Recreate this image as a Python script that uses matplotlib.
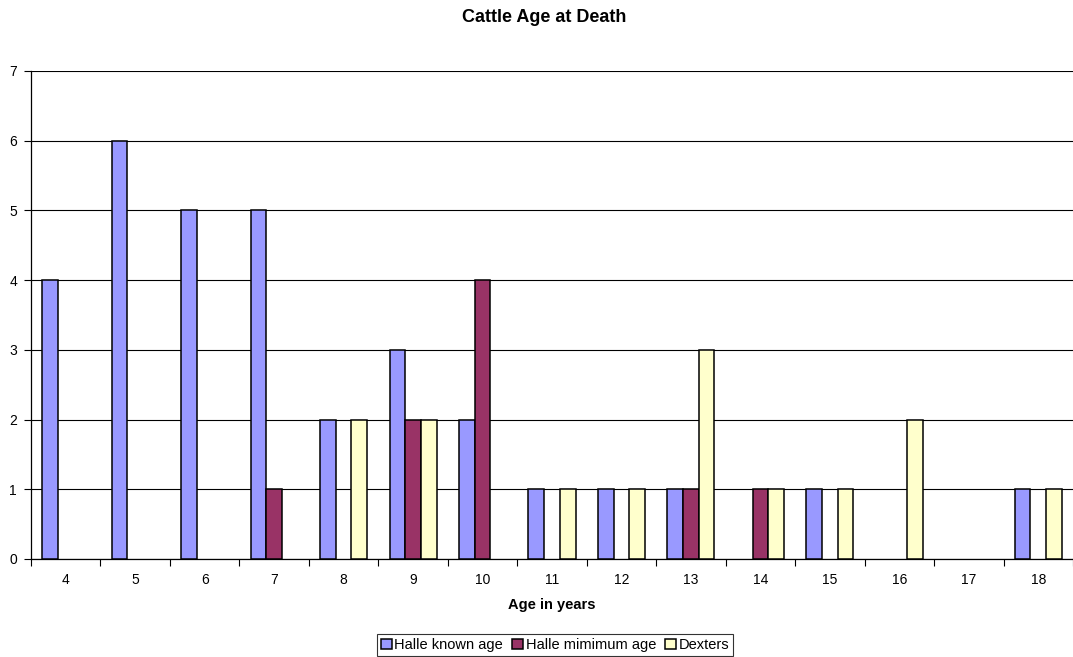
import matplotlib
matplotlib.use("Agg")
import matplotlib.pyplot as plt
import numpy as np

plt.rcParams['font.family'] = ['Liberation Sans', 'DejaVu Sans']

ages = [4, 5, 6, 7, 8, 9, 10, 11, 12, 13, 14, 15, 16, 17, 18]
halle_known = [4, 6, 5, 5, 2, 3, 2, 1, 1, 1, 0, 1, 0, 0, 1]
halle_min = [0, 0, 0, 1, 0, 2, 4, 0, 0, 1, 1, 0, 0, 0, 0]
dexters = [0, 0, 0, 0, 2, 2, 0, 1, 1, 3, 1, 1, 2, 0, 1]
series_names = ["Halle known age", "Halle mimimum age", "Dexters"]
colors = ["#9999FF", "#993366", "#FFFFCC"]

fig = plt.figure(figsize=(10.73, 6.57), dpi=100)
ax = fig.add_axes([31/1073, 1 - 559/657, (1073 - 31)/1073, (559 - 71)/657])

x = np.arange(len(ages))
w = 0.226
handles = []
for i, (vals, name, c) in enumerate(zip([halle_known, halle_min, dexters], series_names, colors)):
    v = np.array(vals, dtype=float)
    mask = v > 0
    h = ax.bar(x[mask] + (i - 1) * w, v[mask], width=w, color=c, edgecolor="black",
               linewidth=1.1, label=name, zorder=3)
    handles.append(h)

ax.set_xlim(-0.5, len(ages) - 0.5)
ax.set_ylim(0, 7)
ax.set_yticks(range(0, 8))
ax.yaxis.grid(True, color="black", linewidth=0.8, zorder=0)
ax.set_axisbelow(True)

ax.set_xticks(x)
ax.set_xticklabels([str(a) for a in ages], fontsize=10)
ax.set_xticks(np.arange(-0.5, len(ages), 1), minor=True)
ax.tick_params(axis='x', which='major', length=0, pad=10)
ax.tick_params(axis='x', which='minor', length=5, direction='out', width=0.8)
ax.tick_params(axis='y', labelsize=10, length=5, direction='out', width=0.8, pad=5)

for s in ["top", "right"]:
    ax.spines[s].set_visible(False)
ax.spines["left"].set_linewidth(0.9)
ax.spines["bottom"].set_linewidth(0.9)

ax.set_xlabel("Age in years", fontsize=10.5, fontweight="bold", labelpad=8)
fig.text(544/1073, 1 - 18/657, "Cattle Age at Death", ha="center", va="center",
         fontsize=13, fontweight="bold")

leg = fig.legend(handles=handles, labels=series_names, loc="center",
                 bbox_to_anchor=(555/1073, 1 - 645/657), ncol=3, fontsize=10.5,
                 frameon=True, fancybox=False, edgecolor="black",
                 handlelength=0.75, handleheight=0.75, handletextpad=0.2,
                 columnspacing=0.6, borderpad=0.25, borderaxespad=0)
leg.get_frame().set_linewidth(0.8)

fig.savefig("out.png", dpi=100)
